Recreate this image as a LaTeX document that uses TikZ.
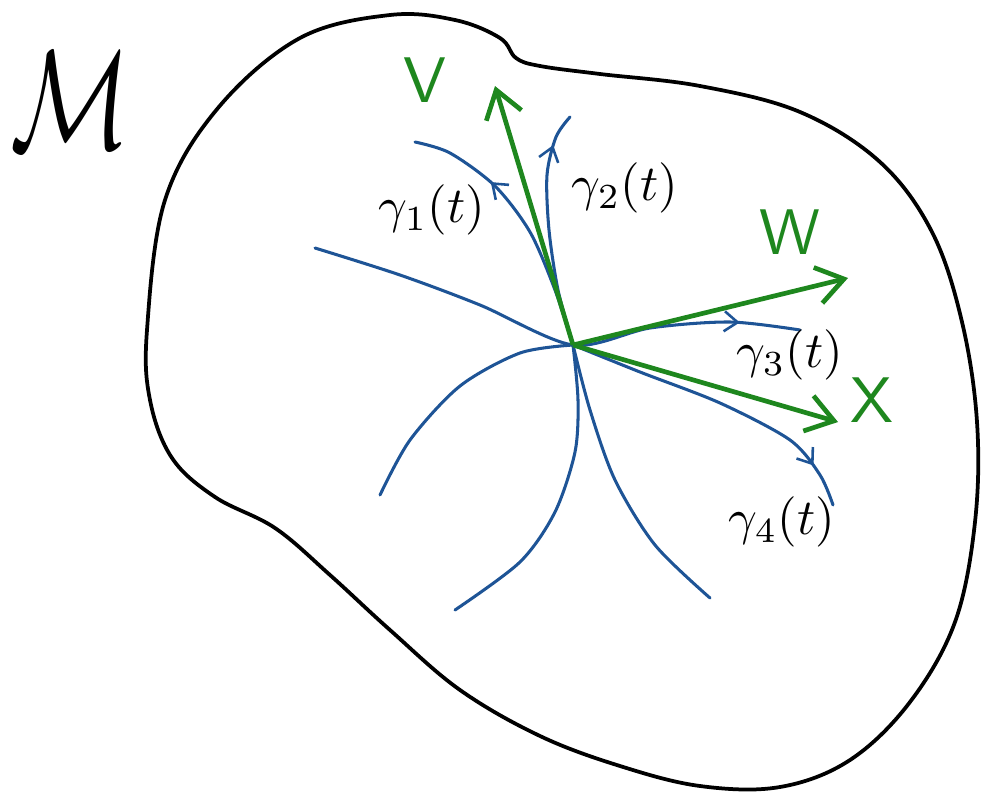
\documentclass[tikz,border=0pt]{standalone}
\usepackage{tikz}
\usetikzlibrary{arrows.meta, decorations.markings}
\definecolor{penblue}{RGB}{30,84,150}
\definecolor{pengreen}{RGB}{30,135,30}

\begin{document}
\begin{tikzpicture}[
    x=0.3mm, y=-0.3mm,
    outline/.style={line width=3.2pt, black, line join=round},
    curve/.style={line width=2.6pt, penblue, line cap=round},
    midarrow/.style={postaction={decorate, decoration={markings,
        mark=at position #1 with {\arrow{Straight Barb[length=4mm, width=6mm, line width=2.2pt]}}}}},
    vec/.style={-{Straight Barb[length=8mm, width=11mm, line width=4pt]}, line width=4pt, pengreen},
    veclabel/.style={pengreen, scale=5.5},
    curvelabel/.style={black, scale=4.3}
]
\useasboundingbox (0,0) rectangle (983,795);

% the manifold
\draw[outline] plot[smooth cycle, tension=0.6] coordinates {
    (147,330) (165,200) (218,108) (300,38) (390,15) (455,20) (500,38)
    (516,58) (540,66) (600,74) (700,86) (800,112) (880,162) (932,232)
    (962,322) (977,422) (975,522) (955,622) (910,702) (850,760) (780,787)
    (700,786) (620,766) (540,736) (460,690) (390,630) (330,575) (275,528)
    (215,497) (172,458) (150,400)};
\node[xscale=8.5, yscale=12] (M) at (70,100) {$\mathcal{M}$};

% common point
\coordinate (P) at (573,345);

% curves through P
\draw[curve, midarrow=0.88] plot[smooth] coordinates {(315,248) (400,275) (480,305) (P) (650,328) (730,322) (800,330)};
\draw[curve, midarrow=0.68] plot[smooth] coordinates {(P) (555,290) (530,232) (495,186) (450,153) (415,142)};
\draw[curve, midarrow=0.86] plot[smooth] coordinates {(P) (558,290) (549,230) (547,175) (556,137) (570,117)};
\draw[curve] plot[smooth] coordinates {(P) (578,400) (575,452) (555,512) (520,562) (455,610)};
\draw[curve] plot[smooth] coordinates {(P) (590,410) (615,480) (655,545) (710,598)};
\draw[curve] plot[smooth] coordinates {(P) (520,353) (460,386) (410,440) (380,495)};
\draw[curve, midarrow=0.86] plot[smooth] coordinates {(P) (640,372) (720,403) (790,440) (820,475) (833,505)};

% tangent vectors
\coordinate (Vtip) at (495,86);
\coordinate (Wtip) at (848,278);
\coordinate (Xtip) at (838,422);
\draw[vec] (P) -- (Vtip);
\draw[vec] (P) -- (Wtip);
\draw[vec] (P) -- (Xtip);

% labels
\node[veclabel] (V) at (425,80) {$\mathsf{V}$};
\node[veclabel] (W) at (790,232) {$\mathsf{W}$};
\node[veclabel] (X) at (872,400) {$\mathsf{X}$};
\node[curvelabel] (g1) at (432,210) {$\gamma_1(t)$};
\node[curvelabel] (g2) at (625,188) {$\gamma_2(t)$};
\node[curvelabel] (g3) at (790,355) {$\gamma_3(t)$};
\node[curvelabel] (g4) at (782,522) {$\gamma_4(t)$};

\end{tikzpicture}
\end{document}
